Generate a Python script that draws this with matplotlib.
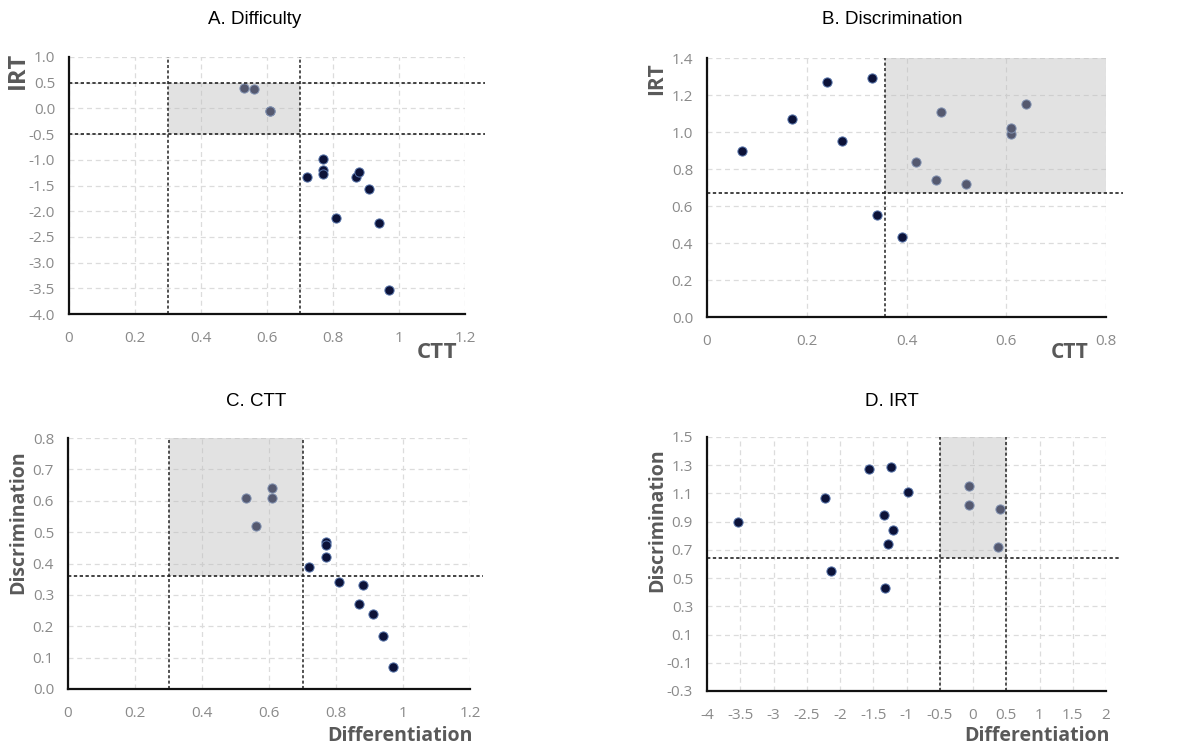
import numpy as np
import matplotlib
matplotlib.use("Agg")
import matplotlib.pyplot as plt
from matplotlib.patches import Rectangle

# item values (14 items)
ctt_diff = [0.53, 0.56, 0.61, 0.61, 0.72, 0.77, 0.77, 0.77, 0.81, 0.87, 0.88, 0.91, 0.94, 0.97]
irt_diff = [0.40, 0.37, -0.06, -0.06, -1.33, -0.98, -1.20, -1.28, -2.14, -1.34, -1.23, -1.56, -2.23, -3.54]
ctt_disc = [0.61, 0.52, 0.64, 0.61, 0.39, 0.47, 0.42, 0.46, 0.34, 0.27, 0.33, 0.24, 0.17, 0.07]
irt_disc = [0.99, 0.72, 1.15, 1.02, 0.43, 1.11, 0.84, 0.74, 0.55, 0.95, 1.29, 1.27, 1.07, 0.90]

titles = ["A. Difficulty", "B. Discrimination", "C. CTT", "D. IRT"]

W, H = 1203, 750
fig = plt.figure(figsize=(W / 100, H / 100), dpi=100)

TICK_FONT = "Open Sans"
LABEL_COLOR = "#595959"


def px_axes(left, top, right, bottom):
    return fig.add_axes([left / W, 1 - bottom / H, (right - left) / W, (bottom - top) / H])


def panel(ax, x, y, xlim, ylim, xticks, xlabels, yticks, ylabels, vlines, hline, shade, hline_end):
    ax.set_xlim(*xlim)
    ax.set_ylim(*ylim)
    ax.set_xticks(xticks)
    ax.set_xticklabels(xlabels)
    ax.set_yticks(yticks)
    ax.set_yticklabels(ylabels)
    for s in ["top", "right"]:
        ax.spines[s].set_visible(False)
    for s in ["left", "bottom"]:
        ax.spines[s].set_linewidth(1.6)
        ax.spines[s].set_color("#111111")
        ax.spines[s].set_zorder(6)
    ax.tick_params(length=0, colors="#8a8a8a", labelsize=11)
    ax.tick_params(axis="x", pad=12)
    ax.tick_params(axis="y", pad=10)
    for lab in ax.get_xticklabels() + ax.get_yticklabels():
        lab.set_family(TICK_FONT)
    ax.grid(True, color="#dcdcdc", linestyle=(0, (4, 3)), linewidth=0.9)
    ax.set_axisbelow(True)

    ax.scatter(x, y, s=44, color="#0c1238", edgecolors="#5572a8", linewidths=0.7, zorder=3)

    # shaded zone laid over the points so they look paler inside it
    (x0, x1), (y0, y1) = shade
    ax.add_patch(Rectangle((x0, y0), x1 - x0, y1 - y0, facecolor="#bcbcbc",
                           alpha=0.42, edgecolor="none", zorder=4))

    for v in vlines:
        ax.plot([v, v], list(ylim), color="#222222", lw=1.1, linestyle=(0, (2, 1.5)), zorder=5)
    for h in hline:
        ax.plot([xlim[0], hline_end], [h, h], color="#222222", lw=1.2,
                linestyle=(0, (2, 1.5)), zorder=5, clip_on=False)


def fmt(vals, dec):
    return [f"{v:.{dec}f}" for v in vals]


def xfmt(vals):
    out = []
    for v in vals:
        s = f"{v:.1f}"
        if s.endswith(".0"):
            s = s[:-2]
        out.append(s)
    return out


# A. Difficulty
axA = px_axes(69, 57, 465, 314)
xa = [0, 0.2, 0.4, 0.6, 0.8, 1.0, 1.2]
ya = [1.0, 0.5, 0.0, -0.5, -1.0, -1.5, -2.0, -2.5, -3.0, -3.5, -4.0]
panel(axA, ctt_diff, irt_diff, (0, 1.2), (-4.0, 1.0), xa, xfmt(xa), ya, fmt(ya, 1),
      [0.3, 0.7], [0.5, -0.5], ((0.3, 0.7), (-0.5, 0.5)), 1.26)

# B. Discrimination
axB = px_axes(707, 58, 1106, 317)
xb = [0, 0.2, 0.4, 0.6, 0.8]
yb = [0.0, 0.2, 0.4, 0.6, 0.8, 1.0, 1.2, 1.4]
panel(axB, ctt_disc, irt_disc, (0, 0.8), (0, 1.4), xb, xfmt(xb), yb, fmt(yb, 1),
      [0.356], [0.672], ((0.356, 0.8), (0.672, 1.4)), 0.835)

# C. CTT
axC = px_axes(68, 438, 470, 689)
xc = [0, 0.2, 0.4, 0.6, 0.8, 1.0, 1.2]
yc = [0.0, 0.1, 0.2, 0.3, 0.4, 0.5, 0.6, 0.7, 0.8]
panel(axC, ctt_diff, ctt_disc, (0, 1.2), (0, 0.8), xc, xfmt(xc), yc, fmt(yc, 1),
      [0.3, 0.7], [0.36], ((0.3, 0.7), (0.36, 0.8)), 1.24)

# D. IRT
axD = px_axes(707, 437, 1106, 691)
xd = [-4, -3.5, -3, -2.5, -2, -1.5, -1, -0.5, 0, 0.5, 1, 1.5, 2]
yd = [-0.3, -0.1, 0.1, 0.3, 0.5, 0.7, 0.9, 1.1, 1.3, 1.5]
panel(axD, irt_diff, irt_disc, (-4, 2), (-0.3, 1.5), xd, xfmt(xd), yd, fmt(yd, 1),
      [-0.5, 0.5], [0.645], ((-0.5, 0.5), (0.645, 1.5)), 2.21)

# titles
for t, (px, py) in zip(titles, [(255, 20), (892, 20), (256, 402), (892, 402)]):
    fig.text(px / W, 1 - py / H, t, ha="center", va="center", fontsize=13.5,
             family="Liberation Sans", color="black")

# axis labels
def lab(text, px, py, size, rot=0):
    fig.text(px / W, 1 - py / H, text, ha="center", va="center", fontsize=size,
             family="Open Sans", weight="bold", color=LABEL_COLOR, rotation=rot)

lab("IRT", 18, 70, 17, 90)
lab("CTT", 437, 352, 16)
lab("IRT", 657, 79, 15, 90)
lab("CTT", 1070, 352, 15)
lab("Discrimination", 18, 522, 14, 90)
lab("Differentiation", 400, 736, 14)
lab("Discrimination", 657, 520, 14, 90)
lab("Differentiation", 1037, 736, 14)

fig.savefig("out.png", dpi=100)
